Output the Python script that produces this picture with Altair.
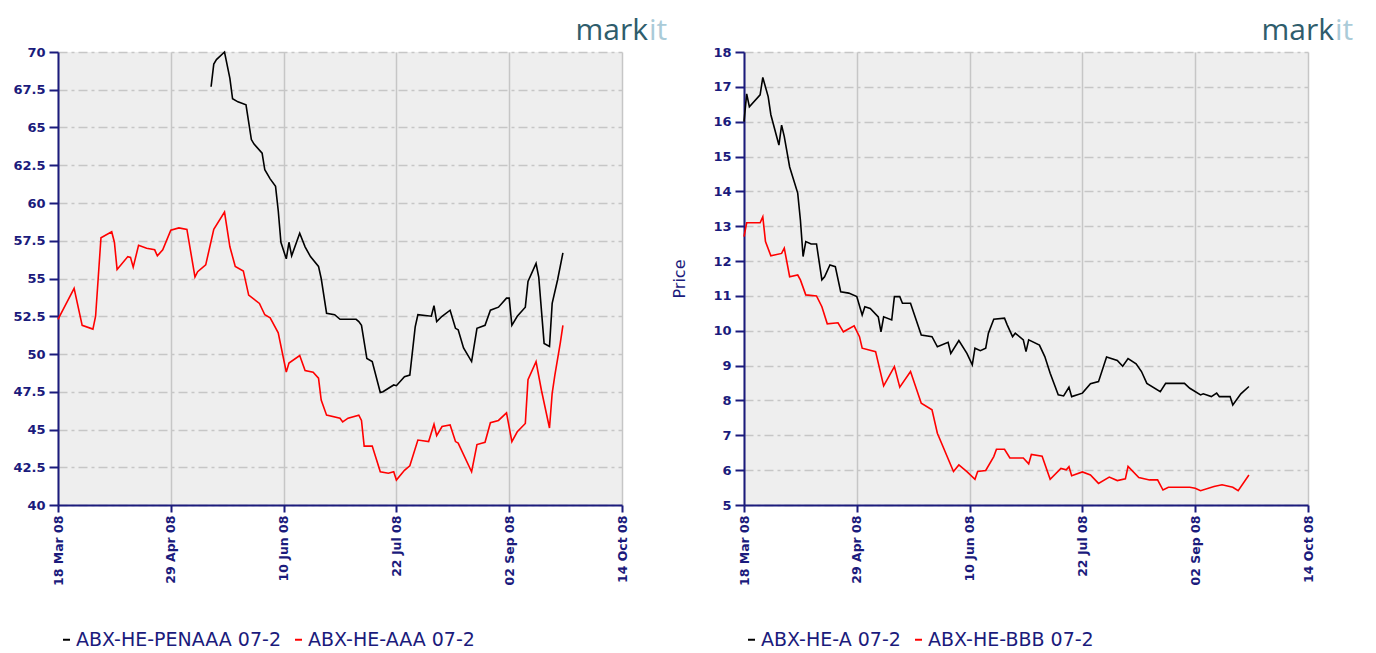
import altair as alt
import pandas as pd

NAVY = "#1b1b7c"
GRID = "#c6c6c6"
BG = "#eeeeee"
FONT = "DejaVu Sans"

x_ticks = ["2008-03-18", "2008-04-29", "2008-06-10", "2008-07-22", "2008-09-02", "2008-10-14"]
x_domain = ["2008-03-18", "2008-10-14"]

# ---------------- left panel ----------------
left_names = ["ABX-HE-PENAAA 07-2", "ABX-HE-AAA 07-2"]
left_y_ticks = [40, 42.5, 45, 47.5, 50, 52.5, 55, 57.5, 60, 62.5, 65, 67.5, 70]
left_y_domain = [40, 70]

penaaa_dates = ["2008-05-14", "2008-05-15", "2008-05-16", "2008-05-19", "2008-05-21", "2008-05-22",
                "2008-05-24", "2008-05-27", "2008-05-29", "2008-05-30", "2008-06-02", "2008-06-03",
                "2008-06-05", "2008-06-07", "2008-06-08", "2008-06-09", "2008-06-11", "2008-06-12",
                "2008-06-13", "2008-06-16", "2008-06-18", "2008-06-20", "2008-06-23", "2008-06-24",
                "2008-06-26", "2008-06-29", "2008-07-01", "2008-07-07", "2008-07-08", "2008-07-09",
                "2008-07-11", "2008-07-13", "2008-07-16", "2008-07-17", "2008-07-21", "2008-07-22",
                "2008-07-25", "2008-07-27", "2008-07-29", "2008-07-30", "2008-08-04", "2008-08-05",
                "2008-08-06", "2008-08-08", "2008-08-11", "2008-08-13", "2008-08-14", "2008-08-16",
                "2008-08-19", "2008-08-21", "2008-08-24", "2008-08-26", "2008-08-29", "2008-09-01",
                "2008-09-02", "2008-09-03", "2008-09-05", "2008-09-08", "2008-09-09", "2008-09-12",
                "2008-09-13", "2008-09-15", "2008-09-17", "2008-09-18", "2008-09-20", "2008-09-22"]
penaaa_vals = [67.7, 69.2, 69.5, 70.0, 68.25, 66.9, 66.7, 66.5, 64.2, 63.9, 63.3, 62.2,
               61.6, 61.1, 59.5, 57.4, 56.3, 57.4, 56.5, 58.0, 57.1, 56.45, 55.8, 55.0,
               52.7, 52.6, 52.3, 52.3, 52.15, 51.9, 49.7, 49.5, 47.45, 47.5, 47.95, 47.9,
               48.5, 48.6, 51.8, 52.6, 52.5, 53.2, 52.15, 52.5, 52.9, 51.7, 51.6, 50.4,
               49.5, 51.7, 51.9, 52.9, 53.1, 53.7, 53.7, 51.9, 52.5, 53.1, 54.8, 56.0,
               55.1, 50.7, 50.5, 53.35, 54.9, 56.7]

aaa_dates = ["2008-03-18", "2008-03-24", "2008-03-27", "2008-03-31", "2008-04-01", "2008-04-02",
             "2008-04-03", "2008-04-07", "2008-04-08", "2008-04-09", "2008-04-13", "2008-04-14",
             "2008-04-15", "2008-04-17", "2008-04-20", "2008-04-23", "2008-04-24", "2008-04-26",
             "2008-04-29", "2008-05-02", "2008-05-05", "2008-05-08", "2008-05-09", "2008-05-12",
             "2008-05-15", "2008-05-19", "2008-05-21", "2008-05-23", "2008-05-26", "2008-05-28",
             "2008-06-01", "2008-06-03", "2008-06-05", "2008-06-08", "2008-06-11", "2008-06-12",
             "2008-06-16", "2008-06-18", "2008-06-21", "2008-06-23", "2008-06-24", "2008-06-26",
             "2008-07-01", "2008-07-02", "2008-07-04", "2008-07-08", "2008-07-09", "2008-07-10",
             "2008-07-13", "2008-07-16", "2008-07-19", "2008-07-21", "2008-07-22", "2008-07-25",
             "2008-07-27", "2008-07-30", "2008-08-03", "2008-08-05", "2008-08-06", "2008-08-08",
             "2008-08-11", "2008-08-13", "2008-08-14", "2008-08-19", "2008-08-21", "2008-08-24",
             "2008-08-26", "2008-08-29", "2008-09-01", "2008-09-03", "2008-09-05", "2008-09-08",
             "2008-09-09", "2008-09-12", "2008-09-14", "2008-09-17", "2008-09-18", "2008-09-19",
             "2008-09-21", "2008-09-22"]
aaa_vals = [52.3, 54.35, 51.9, 51.65, 52.5, 55.1, 57.7, 58.1, 57.4, 55.6, 56.45, 56.4,
            55.75, 57.2, 57.0, 56.9, 56.5, 56.9, 58.2, 58.35, 58.25, 55.1, 55.45, 55.9,
            58.25, 59.4, 57.1, 55.8, 55.5, 53.9, 53.35, 52.6, 52.4, 51.4, 48.8, 49.4,
            49.9, 48.9, 48.8, 48.4, 46.95, 45.95, 45.75, 45.5, 45.75, 45.95, 45.6, 43.9,
            43.9, 42.2, 42.1, 42.2, 41.65, 42.3, 42.6, 44.3, 44.2, 45.35, 44.6, 45.2,
            45.3, 44.2, 44.1, 42.2, 44.0, 44.15, 45.45, 45.6, 46.1, 44.2, 44.85, 45.4,
            48.3, 49.5, 47.6, 45.1, 47.4, 48.6, 50.7, 51.9]

# ---------------- right panel ----------------
right_names = ["ABX-HE-A 07-2", "ABX-HE-BBB 07-2"]
right_y_ticks = [5, 6, 7, 8, 9, 10, 11, 12, 13, 14, 15, 16, 17, 18]
right_y_domain = [5, 18]

a_dates = ["2008-03-18", "2008-03-19", "2008-03-20", "2008-03-24", "2008-03-25", "2008-03-27",
           "2008-03-28", "2008-03-31", "2008-04-01", "2008-04-02", "2008-04-04", "2008-04-07",
           "2008-04-08", "2008-04-09", "2008-04-10", "2008-04-12", "2008-04-14", "2008-04-16",
           "2008-04-17", "2008-04-19", "2008-04-21", "2008-04-23", "2008-04-26", "2008-04-29",
           "2008-05-01", "2008-05-02", "2008-05-04", "2008-05-07", "2008-05-08", "2008-05-09",
           "2008-05-12", "2008-05-13", "2008-05-15", "2008-05-16", "2008-05-19", "2008-05-23",
           "2008-05-27", "2008-05-29", "2008-06-02", "2008-06-03", "2008-06-06", "2008-06-09",
           "2008-06-11", "2008-06-12", "2008-06-14", "2008-06-16", "2008-06-17", "2008-06-19",
           "2008-06-23", "2008-06-24", "2008-06-26", "2008-06-27", "2008-06-30", "2008-07-01",
           "2008-07-02", "2008-07-06", "2008-07-08", "2008-07-10", "2008-07-13", "2008-07-15",
           "2008-07-17", "2008-07-18", "2008-07-22", "2008-07-25", "2008-07-28", "2008-07-31",
           "2008-08-04", "2008-08-06", "2008-08-08", "2008-08-11", "2008-08-13", "2008-08-15",
           "2008-08-20", "2008-08-22", "2008-08-29", "2008-08-31", "2008-09-04", "2008-09-05",
           "2008-09-08", "2008-09-10", "2008-09-11", "2008-09-15", "2008-09-16", "2008-09-19",
           "2008-09-22"]
a_vals = [16.0, 16.8, 16.43, 16.77, 17.27, 16.72, 16.2, 15.33, 15.9, 15.57, 14.7, 13.95,
          13.18, 12.13, 12.56, 12.49, 12.49, 11.46, 11.55, 11.89, 11.84, 11.12, 11.08, 10.98,
          10.45, 10.69, 10.64, 10.40, 9.97, 10.40, 10.31, 10.98, 10.98, 10.79, 10.79, 9.88,
          9.83, 9.54, 9.67, 9.35, 9.72, 9.35, 9.02, 9.5, 9.43, 9.5, 9.93, 10.33,
          10.36, 10.17, 9.83, 9.93, 9.74, 9.40, 9.74, 9.59, 9.26, 8.78, 8.16, 8.13,
          8.38, 8.11, 8.21, 8.48, 8.54, 9.25, 9.15, 8.98, 9.2, 9.05, 8.83, 8.49,
          8.25, 8.49, 8.49, 8.35, 8.16, 8.19, 8.11, 8.21, 8.11, 8.11, 7.87, 8.19,
          8.40]

bbb_dates = ["2008-03-18", "2008-03-19", "2008-03-24", "2008-03-25", "2008-03-26", "2008-03-28",
             "2008-04-01", "2008-04-02", "2008-04-04", "2008-04-07", "2008-04-08", "2008-04-10",
             "2008-04-14", "2008-04-16", "2008-04-18", "2008-04-22", "2008-04-24", "2008-04-28",
             "2008-04-30", "2008-05-01", "2008-05-06", "2008-05-09", "2008-05-13", "2008-05-15",
             "2008-05-19", "2008-05-23", "2008-05-27", "2008-05-29", "2008-06-04", "2008-06-06",
             "2008-06-09", "2008-06-12", "2008-06-13", "2008-06-16", "2008-06-19", "2008-06-20",
             "2008-06-23", "2008-06-25", "2008-06-30", "2008-07-02", "2008-07-03", "2008-07-07",
             "2008-07-10", "2008-07-14", "2008-07-16", "2008-07-17", "2008-07-18", "2008-07-22",
             "2008-07-25", "2008-07-28", "2008-08-01", "2008-08-04", "2008-08-07", "2008-08-08",
             "2008-08-12", "2008-08-16", "2008-08-19", "2008-08-21", "2008-08-23", "2008-08-31",
             "2008-09-02", "2008-09-04", "2008-09-09", "2008-09-12", "2008-09-16", "2008-09-18",
             "2008-09-22"]
bbb_vals = [12.7, 13.1, 13.1, 13.27, 12.56, 12.15, 12.22, 12.37, 11.55, 11.6, 11.46, 11.03,
            11.0, 10.69, 10.2, 10.23, 9.97, 10.14, 9.83, 9.5, 9.4, 8.42, 8.97, 8.38,
            8.83, 7.92, 7.73, 7.06, 5.96, 6.15, 5.96, 5.74, 5.96, 5.99, 6.39, 6.6,
            6.6, 6.35, 6.35, 6.18, 6.45, 6.4, 5.74, 6.05, 6.01, 6.1, 5.84, 5.95,
            5.86, 5.62, 5.80, 5.70, 5.75, 6.11, 5.79, 5.72, 5.72, 5.43, 5.51, 5.51,
            5.48, 5.41, 5.53, 5.58, 5.51, 5.41, 5.86]


def to_dt(s):
    y, m, d = map(int, s.split("-"))
    return alt.DateTime(year=y, month=m, date=d, utc=True)


def panel(names, dates_a, vals_a, dates_b, vals_b, y_domain, y_ticks, y_title, legend_x):
    df = pd.DataFrame({
        "date": dates_a + dates_b,
        "value": vals_a + vals_b,
        "series": [names[0]] * len(dates_a) + [names[1]] * len(dates_b),
    })
    y_axis = dict(
        values=y_ticks, format=".1~f", minExtent=45, maxExtent=45,
        grid=True, gridDash=[9, 4, 3, 4], gridColor=GRID, gridWidth=1.5,
        domainColor=NAVY, domainWidth=2, tickColor=NAVY, tickWidth=2, tickSize=9,
        labelPadding=4, labelColor=NAVY, labelFont=FONT, labelFontSize=13,
        labelFontWeight="bold",
    )
    if y_title:
        y_axis.update(title=y_title, titleColor=NAVY, titleFont=FONT, titleFontSize=16,
                      titleFontWeight="normal", titlePadding=12)
    else:
        y_axis.update(title=None)

    lines = alt.Chart(df).mark_line(strokeWidth=1.6).encode(
        x=alt.X(
            "date:T",
            scale=alt.Scale(type="utc", domain=[to_dt(d) for d in x_domain]),
            axis=alt.Axis(
                values=[to_dt(d) for d in x_ticks],
                labelExpr="utcFormat(datum.value, '%d %b %y')",
                labelAngle=270, labelFlush=False, labelOverlap=False, labelBound=False,
                title=None, grid=True, gridColor=GRID, gridWidth=1.5,
                domainColor=NAVY, domainWidth=2, tickColor=NAVY, tickWidth=2, tickSize=7,
                labelPadding=3, labelColor=NAVY, labelFont=FONT, labelFontSize=12.5,
                labelFontWeight="bold",
            ),
        ),
        y=alt.Y("value:Q", scale=alt.Scale(domain=y_domain, nice=False, zero=False),
                axis=alt.Axis(**y_axis)),
        color=alt.Color(
            "series:N",
            scale=alt.Scale(domain=names, range=["#000000", "#ff0000"]),
            legend=alt.Legend(
                orient="none", legendX=legend_x, legendY=578, direction="horizontal",
                title=None, symbolType="stroke", symbolSize=49, symbolStrokeWidth=2,
                labelFont=FONT, labelFontSize=19, labelColor=NAVY, labelOffset=0,
                labelLimit=0, columnPadding=8, padding=0,
            ),
        ),
    )
    logo_mark = alt.Chart(pd.DataFrame({"t": ["mark"]})).mark_text(
        align="right", baseline="alphabetic", font="Open Sans", fontSize=30, color="#2f5d6c"
    ).encode(x=alt.value(590), y=alt.value(-12), text="t:N")
    logo_it = alt.Chart(pd.DataFrame({"t": ["it"]})).mark_text(
        align="left", baseline="alphabetic", font="Open Sans", fontSize=30, color="#aacbd8"
    ).encode(x=alt.value(591), y=alt.value(-12), text="t:N")
    return alt.layer(lines, logo_mark, logo_it).properties(width=564, height=453)


left = panel(left_names, penaaa_dates, penaaa_vals, aaa_dates, aaa_vals,
             left_y_domain, left_y_ticks, None, -1)
right = panel(right_names, a_dates, a_vals, bbb_dates, bbb_vals,
              right_y_domain, right_y_ticks, "Price", -2)

chart = alt.hconcat(left, right, spacing=122, bounds="flush").resolve_scale(
    color="independent", x="independent", y="independent"
).properties(
    padding={"left": 4, "top": 8, "right": 5, "bottom": 0}
).configure_view(fill=BG, stroke=None)

chart.save("out.html", embed_options={"renderer": "svg", "actions": False})
